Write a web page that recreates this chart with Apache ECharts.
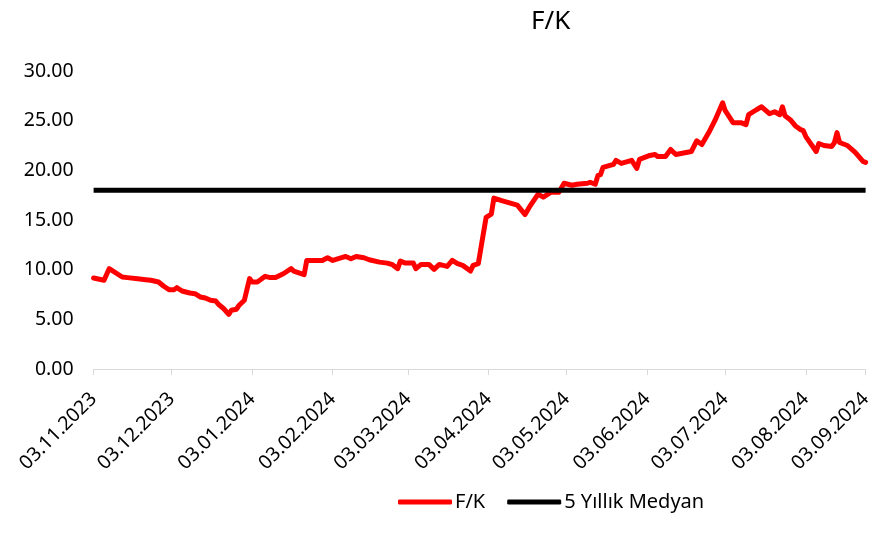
<!DOCTYPE html>
<html>
<head>
<meta charset="utf-8">
<title>F/K</title>
<script src="https://cdn.jsdelivr.net/npm/echarts@6/dist/echarts.min.js"></script>
<style>
  html, body { margin: 0; padding: 0; background: #fff; }
  #chart { width: 884px; height: 533px; }
</style>
</head>
<body>
<div id="chart"></div>
<script>
// F/K gunluk degerleri (grafikten okunan yaklasik degerler)
var dates = [
  '2023-11-03','2023-11-07','2023-11-09','2023-11-14','2023-11-16','2023-11-20','2023-11-23','2023-11-25','2023-11-28','2023-11-30',
  '2023-12-02','2023-12-04','2023-12-05','2023-12-07','2023-12-10','2023-12-12','2023-12-14','2023-12-16','2023-12-18','2023-12-20',
  '2023-12-21','2023-12-23','2023-12-25','2023-12-26','2023-12-28','2023-12-29','2023-12-31',
  '2024-01-02','2024-01-03','2024-01-05','2024-01-08','2024-01-10','2024-01-12','2024-01-15','2024-01-18','2024-01-19','2024-01-23',
  '2024-01-24','2024-01-30','2024-02-01','2024-02-03','2024-02-08','2024-02-10','2024-02-12','2024-02-15','2024-02-17','2024-02-21',
  '2024-02-24','2024-02-26','2024-02-28','2024-02-29','2024-03-02','2024-03-05','2024-03-06','2024-03-08','2024-03-11','2024-03-13',
  '2024-03-15','2024-03-18','2024-03-20','2024-03-22','2024-03-24','2024-03-27','2024-03-28','2024-03-30',
  '2024-04-02','2024-04-04','2024-04-05','2024-04-08','2024-04-14','2024-04-17','2024-04-19','2024-04-22','2024-04-24','2024-04-27','2024-04-30',
  '2024-05-02','2024-05-05','2024-05-07','2024-05-11','2024-05-12','2024-05-14','2024-05-15','2024-05-16','2024-05-17','2024-05-21',
  '2024-05-22','2024-05-24','2024-05-28','2024-05-30','2024-05-31',
  '2024-06-04','2024-06-06','2024-06-07','2024-06-10','2024-06-12','2024-06-14','2024-06-20','2024-06-22','2024-06-24','2024-06-27','2024-06-29',
  '2024-07-02','2024-07-03','2024-07-04','2024-07-06','2024-07-09','2024-07-11','2024-07-12','2024-07-15','2024-07-17','2024-07-20',
  '2024-07-22','2024-07-24','2024-07-25','2024-07-26','2024-07-28','2024-07-30',
  '2024-08-01','2024-08-02','2024-08-03','2024-08-07','2024-08-08','2024-08-10','2024-08-13','2024-08-14','2024-08-15','2024-08-16',
  '2024-08-19','2024-08-22','2024-08-25','2024-08-26'
];
var fk = [
  9.16, 8.93, 10.1, 9.26, 9.2, 9.09, 8.99, 8.93, 8.76, 8.33,
  7.99, 7.99, 8.19, 7.85, 7.65, 7.58, 7.25, 7.15, 6.92, 6.85,
  6.52, 6.09, 5.49, 5.92, 6.02, 6.42, 6.92,
  9.1, 8.76, 8.76, 9.33, 9.2, 9.2, 9.59, 10.1, 9.86, 9.5,
  10.93, 10.93, 11.2, 10.93, 11.33, 11.1, 11.33, 11.2, 11.0, 10.76,
  10.66, 10.5, 10.1, 10.86, 10.66, 10.66, 10.1, 10.53, 10.53, 10.03,
  10.53, 10.33, 10.93, 10.6, 10.43, 9.86, 10.43, 10.6,
  15.27, 15.6, 17.2, 16.95, 16.5, 15.55, 16.45, 17.6, 17.3, 17.8, 17.8,
  18.7, 18.5, 18.6, 18.7, 18.8, 18.6, 19.46, 19.56, 20.3, 20.6,
  21.0, 20.7, 21.0, 20.2, 21.1,
  21.5, 21.6, 21.4, 21.4, 22.1, 21.6, 21.9, 22.97, 22.6, 23.97, 25.0,
  26.8, 26.0, 25.6, 24.8, 24.8, 24.6, 25.6, 26.1, 26.4, 25.7,
  25.9, 25.6, 26.4, 25.5, 25.1, 24.47,
  24.1, 24.0, 23.4, 21.9, 22.7, 22.5, 22.4, 22.8, 23.8, 22.8,
  22.5, 21.8, 20.9, 20.8
];
var medianValue = 18.0;

// eksen etiketleri
var tickDates = ['2023-11-03','2023-12-03','2024-01-03','2024-02-03','2024-03-03','2024-04-03',
  '2024-05-03','2024-06-03','2024-07-03','2024-08-03','2024-08-26'];
var tickLabels = ['03.11.2023','03.12.2023','03.01.2024','03.02.2024','03.03.2024','03.04.2024',
  '03.05.2024','03.06.2024','03.07.2024','03.08.2024','03.09.2024'];
var yTicks = [0, 5, 10, 15, 20, 25, 30];

var font = 'Noto Sans';
function toTime(d) { return Date.UTC(+d.slice(0, 4), +d.slice(5, 7) - 1, +d.slice(8, 10)); }
var tickTimes = tickDates.map(toTime);

var fkData = dates.map(function (d, i) { return [toTime(d), fk[i]]; });
var medianData = dates.map(function (d) { return [toTime(d), medianValue]; });

var chart = echarts.init(document.getElementById('chart'));
chart.setOption({
  animation: false,
  backgroundColor: '#ffffff',
  title: {
    text: 'F/K',
    left: 526,
    top: 4,
    textStyle: { fontFamily: font, fontSize: 26, fontWeight: 'normal', color: '#000' }
  },
  legend: {
    left: 398,
    top: 492,
    padding: 0,
    itemWidth: 54,
    itemHeight: 5,
    itemGap: 22,
    icon: 'roundRect',
    textStyle: { fontFamily: font, fontSize: 20, color: '#000', padding: [0, 0, 0, -2] },
    data: ['F/K', '5 Yıllık Medyan']
  },
  grid: { left: 93.6, right: 18.4, top: 71, bottom: 164 },
  xAxis: {
    type: 'value',
    min: toTime(dates[0]),
    max: toTime(dates[dates.length - 1]),
    axisLine: { lineStyle: { color: '#d9d9d9', width: 1 } },
    axisTick: { show: true, length: 6, lineStyle: { color: '#d9d9d9' }, customValues: tickTimes },
    splitLine: { show: false },
    axisLabel: {
      customValues: tickTimes,
      rotate: 45,
      margin: 27,
      fontFamily: font,
      fontSize: 19.5,
      color: '#000',
      formatter: function (val) {
        var i = tickTimes.indexOf(+val);
        return i >= 0 ? tickLabels[i] : '';
      }
    }
  },
  yAxis: {
    type: 'value',
    min: yTicks[0],
    max: yTicks[yTicks.length - 1],
    interval: 5,
    axisLine: { show: false },
    axisTick: { show: false },
    splitLine: { show: false },
    axisLabel: {
      margin: 20,
      fontFamily: font,
      fontSize: 19.5,
      color: '#000',
      formatter: function (v) { return v.toFixed(2); }
    }
  },
  series: [
    {
      name: 'F/K',
      type: 'line',
      data: fkData,
      symbol: 'none',
      itemStyle: { color: '#ff0000' },
      lineStyle: { color: '#ff0000', width: 5, join: 'round', cap: 'round' }
    },
    {
      name: '5 Yıllık Medyan',
      type: 'line',
      data: medianData,
      symbol: 'none',
      itemStyle: { color: '#000000' },
      lineStyle: { color: '#000000', width: 5 }
    }
  ]
});
</script>
</body>
</html>
